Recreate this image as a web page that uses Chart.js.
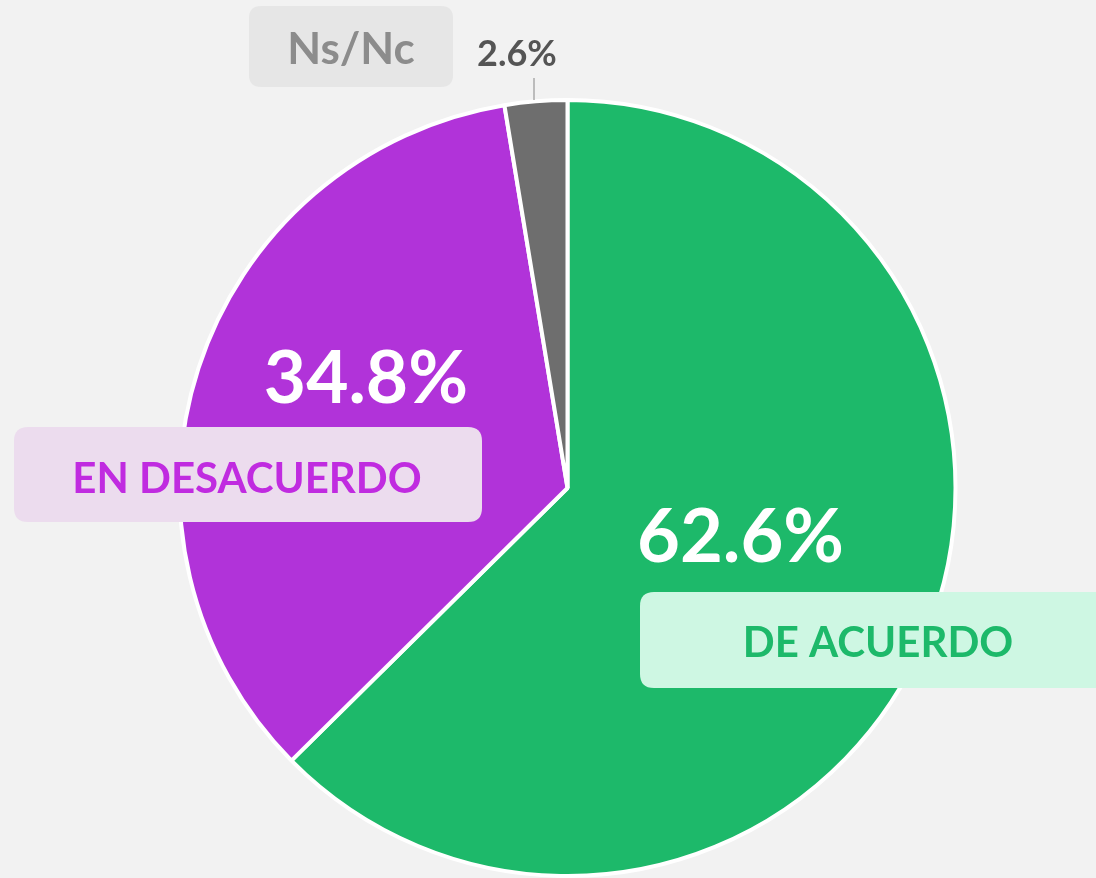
<!DOCTYPE html>
<html>
<head>
<meta charset="utf-8">
<script src="https://cdn.jsdelivr.net/npm/chart.js@4"></script>
<style>
html,body{margin:0;padding:0;background:#f2f2f2;}
#wrap{width:1096px;height:878px;position:relative;}
canvas{display:block;}
</style>
</head>
<body>
<div id="wrap"><canvas id="c" width="1096" height="878"></canvas></div>
<script>
const categories = ["DE ACUERDO", "EN DESACUERDO", "Ns/Nc"];
const values = [62.6, 34.8, 2.6];
const valueLabels = ["62.6%", "34.8%", "2.6%"];
const colors = ["#1db96a", "#b133d9", "#6e6e6e"];

const FONT = "Lato, 'Open Sans', 'DejaVu Sans', sans-serif";

function roundRect(ctx, x, y, w, h, r, fill) {
  ctx.beginPath();
  ctx.moveTo(x + r, y);
  ctx.lineTo(x + w - r, y);
  ctx.quadraticCurveTo(x + w, y, x + w, y + r);
  ctx.lineTo(x + w, y + h - r);
  ctx.quadraticCurveTo(x + w, y + h, x + w - r, y + h);
  ctx.lineTo(x + r, y + h);
  ctx.quadraticCurveTo(x, y + h, x, y + h - r);
  ctx.lineTo(x, y + r);
  ctx.quadraticCurveTo(x, y, x + r, y);
  ctx.closePath();
  ctx.fillStyle = fill;
  ctx.fill();
}

const labelPlugin = {
  id: 'labels',
  afterDraw(chart) {
    const ctx = chart.ctx;
    ctx.save();
    ctx.textBaseline = 'alphabetic';

    // Ns/Nc box
    roundRect(ctx, 249, 6, 204, 81, 12, '#e6e6e6');
    ctx.font = "bold 44px " + FONT;
    ctx.fillStyle = '#8c8c8c';
    ctx.textAlign = 'center';
    ctx.fillText(categories[2], 351, 64);

    // 2.6% label + leader
    ctx.font = "bold 36px " + FONT;
    ctx.fillStyle = '#555555';
    ctx.textAlign = 'left';
    ctx.fillText(valueLabels[2], 477, 66);
    ctx.strokeStyle = '#aaaaaa';
    ctx.lineWidth = 1.5;
    ctx.beginPath();
    ctx.moveTo(534, 78);
    ctx.lineTo(534, 100);
    ctx.stroke();

    // 34.8%
    ctx.font = "bold 73px " + FONT;
    ctx.fillStyle = '#ffffff';
    ctx.textAlign = 'right';
    ctx.fillText(valueLabels[1], 468, 403);

    // EN DESACUERDO box
    roundRect(ctx, 14, 427, 468, 95, 14, '#ecdcee');
    ctx.font = "bold 42px " + FONT;
    ctx.fillStyle = '#c02be0';
    ctx.textAlign = 'center';
    ctx.fillText(categories[1], 247, 493);

    // 62.6%
    ctx.font = "bold 74px " + FONT;
    ctx.fillStyle = '#ffffff';
    ctx.textAlign = 'left';
    ctx.fillText(valueLabels[0], 637, 562);

    // DE ACUERDO box
    roundRect(ctx, 640, 592, 480, 96, 14, '#cef7e3');
    ctx.font = "bold 42px " + FONT;
    ctx.fillStyle = '#1db96a';
    ctx.textAlign = 'center';
    ctx.fillText(categories[0], 878, 657);

    ctx.restore();
  }
};

new Chart(document.getElementById('c'), {
  type: 'pie',
  data: {
    labels: categories,
    datasets: [{
      data: values,
      backgroundColor: colors,
      borderColor: '#ffffff',
      borderWidth: 4,
      hoverOffset: 0
    }]
  },
  options: {
    responsive: false,
    animation: false,
    layout: { padding: { left: 177.5, top: 98, right: 138.5, bottom: 0 } },
    plugins: {
      legend: { display: false },
      tooltip: { enabled: false }
    }
  },
  plugins: [labelPlugin]
});
</script>
</body>
</html>
